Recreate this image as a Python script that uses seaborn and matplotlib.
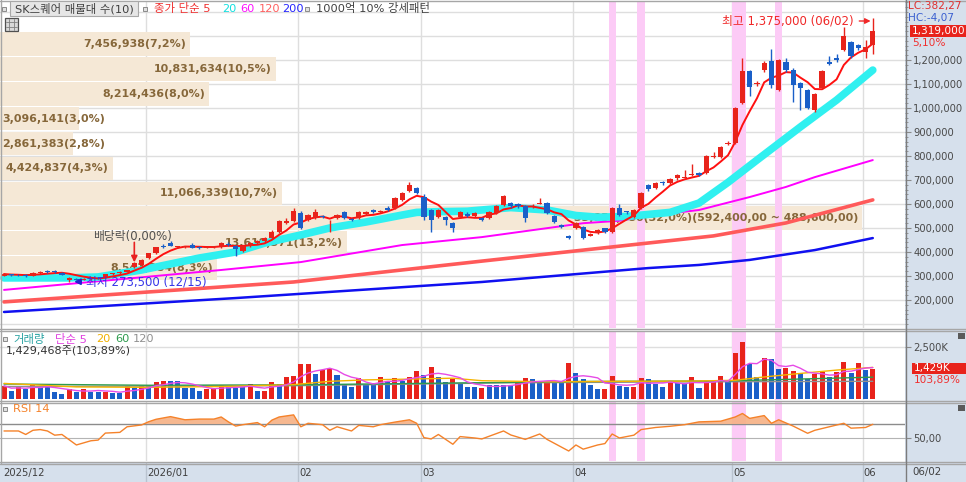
import numpy as np
import pandas as pd
import matplotlib
matplotlib.use("Agg")
import matplotlib.pyplot as plt
from matplotlib.patches import Rectangle
from matplotlib.lines import Line2D
from matplotlib.ticker import MultipleLocator
import seaborn as sns

# ------------------------------------------------------------------ data
month_labels = ["2025/12", "2026/01", "02", "03", "04", "05", "06"]
month_first_idx = [0, 20, 41, 58, 79, 101, 119]

# daily candles, prices in thousand won
open_k = [
    300, 306, 305, 304, 300, 312, 322, 320, 314, 284, 288, 284, 287, 293, 295, 307, 312, 318, 339, 346,
    374, 396, 424, 438, 420, 419, 428, 421, 418, 419, 421, 433, 425, 405, 424, 438, 445, 458, 483, 520, 530,
    562, 533, 542, 550, 523, 540, 567, 538, 542, 558, 575, 565, 585, 583, 617, 654, 667,
    629, 575, 546, 546, 521, 546, 560, 550, 542, 542, 562, 596, 604, 600, 592, 590, 600, 604, 550, 512, 465,
    500, 504, 468, 479, 500, 483, 583, 570, 546, 583, 679, 667, 692, 687, 708, 710, 720, 728, 729, 796, 796, 850,
    854, 1021, 1154, 1100, 1158, 1196, 1075, 1192, 1158, 1104, 1075, 992, 1083, 1192, 1208, 1242, 1275, 1262,
    1233, 1262]
high_k = [
    312, 310, 309, 308, 316, 322, 326, 324, 318, 294, 292, 292, 296, 297, 310, 314, 319, 327, 358, 370,
    397, 422, 432, 444, 426, 426, 437, 424, 425, 427, 442, 440, 428, 428, 441, 450, 461, 490, 535, 540, 585,
    570, 558, 578, 556, 532, 558, 570, 541, 570, 572, 580, 577, 590, 628, 650, 690, 670,
    640, 580, 580, 548, 524, 570, 565, 566, 546, 570, 596, 638, 610, 605, 596, 598, 625, 608, 554, 515, 470,
    525, 508, 480, 495, 502, 588, 600, 572, 578, 650, 683, 690, 697, 708, 725, 740, 767, 733, 805, 815, 842, 862,
    1004, 1208, 1160, 1112, 1195, 1246, 1205, 1210, 1165, 1108, 1080, 1062, 1158, 1215, 1225, 1338, 1280, 1268,
    1283, 1375]
low_k = [
    298, 300, 300, 296, 298, 308, 314, 312, 304, 273.5, 282, 282, 285, 288, 293, 305, 310, 316, 332, 342,
    370, 392, 416, 424, 416, 416, 415, 414, 415, 416, 418, 425, 385, 400, 420, 435, 442, 455, 480, 515, 526,
    495, 528, 538, 542, 485, 536, 538, 528, 538, 555, 562, 562, 570, 580, 612, 650, 640,
    533, 483, 540, 512, 485, 540, 545, 546, 528, 538, 558, 592, 585, 585, 525, 585, 598, 558, 520, 500, 455,
    496, 455, 465, 476, 480, 478, 550, 560, 540, 578, 655, 662, 680, 683, 702, 708, 718, 718, 725, 790, 790, 846,
    850, 1015, 1050, 1090, 1150, 1085, 1070, 1150, 1025, 990, 995, 985, 1078, 1178, 1192, 1238, 1210, 1240,
    1208, 1225]
close_k = [
    308, 304, 303, 299, 312, 316, 318, 315, 306, 292, 285, 288, 292, 291, 308, 311, 316, 324, 353, 367,
    394, 420, 420, 427, 423, 423, 418, 418, 422, 423, 437, 429, 412, 425, 438, 447, 458, 485, 530, 528, 572,
    500, 554, 567, 546, 527, 554, 542, 533, 567, 567, 565, 572, 575, 625, 646, 679, 646,
    546, 533, 575, 533, 500, 567, 550, 562, 533, 567, 592, 633, 590, 590, 542, 593, 604, 562, 525, 505, 460,
    521, 458, 475, 492, 483, 583, 554, 565, 575, 646, 662, 687, 687, 704, 721, 714, 725, 722, 800, 800, 837, 856,
    1000, 1154, 1087, 1105, 1188, 1096, 1200, 1158, 1096, 1083, 1000, 1058, 1154, 1185, 1200, 1300, 1217, 1250,
    1255, 1319]

# volume (thousand shares) and bar colour flag (1 = red, 0 = blue)
volume_k = [
    637, 408, 555, 474, 719, 604, 604, 359, 229, 474, 359, 490, 359, 359, 359, 278, 278, 604, 523, 637,
    604, 817, 850, 850, 850, 523, 523, 408, 474, 523, 686, 604, 523, 555, 719, 408, 408, 817, 719, 1062, 1095,
    1666, 1699, 1209, 1372, 1454, 1144, 719, 555, 1013, 653, 686, 1046, 850, 1013, 882, 1062, 1339,
    1176, 1552, 1046, 817, 964, 735, 555, 555, 544, 672, 672, 672, 672, 800, 1024, 944, 800, 800, 864, 800, 1712,
    1264, 944, 672, 480, 480, 1120, 640, 592, 592, 992, 944, 720, 592, 832, 752, 752, 1040, 544, 864, 864, 1120, 864,
    2192, 2720, 1680, 1040, 1952, 1904, 1440, 1472, 1344, 1232, 960, 1200, 1312, 1040, 1312, 1760, 1264, 1712,
    1392, 1429]
volume_up = [
    1, 0, 1, 0, 1, 0, 0, 0, 0, 1, 0, 1, 0, 0, 1, 0, 0, 1, 0, 1,
    0, 1, 1, 0, 0, 0, 0, 0, 1, 1, 1, 0, 0, 0, 1, 0, 1, 1, 0, 1, 1,
    1, 1, 0, 1, 1, 0, 0, 0, 1, 0, 0, 1, 0, 1, 0, 1, 1,
    0, 1, 0, 0, 1, 0, 0, 0, 1, 0, 0, 0, 0, 1, 1, 0, 0, 1, 0, 0, 1,
    0, 0, 0, 0, 1, 1, 0, 0, 1, 1, 0, 0, 0, 1, 0, 0, 1, 0, 1, 1, 1, 0,
    1, 1, 0, 0, 1, 0, 0, 1, 1, 0, 0, 1, 1, 0, 1, 1, 0, 1,
    0, 1]

# moving averages (index, thousand won)
ma20_idx = [0, 9, 13, 19, 27, 32, 36, 41, 45, 50, 55, 57, 60, 64, 70, 75, 79, 82, 86, 92, 96, 100, 104, 110, 115, 120]
ma20_k = [292, 292, 296, 325, 375, 400, 437, 471, 500, 525, 554, 565, 568, 570, 585, 575, 552, 545, 548, 565, 604, 690, 783, 921, 1033, 1158]
ma60_idx = [0, 30, 41, 55, 66, 80, 85, 89, 96, 103, 108, 112, 120]
ma60_k = [242, 325, 358, 429, 462, 520, 530, 550, 575, 629, 671, 712, 783]
ma120_idx = [0, 40, 66, 84, 98, 108, 120]
ma120_k = [192, 275, 362, 421, 467, 521, 617]
ma200_idx = [0, 32, 66, 89, 96, 103, 112, 120]
ma200_k = [150, 208, 275, 333, 346, 367, 408, 458]

# volume moving averages
vma20_idx = [0, 10, 20, 30, 40, 45, 50, 55, 62, 66, 75, 85, 95, 101, 105, 110, 115, 120]
vma20_k = [750, 580, 560, 600, 690, 850, 920, 950, 1000, 880, 830, 850, 860, 900, 1060, 1230, 1390, 1520]
vma60_idx = [0, 20, 40, 60, 80, 100, 110, 120]
vma60_k = [720, 660, 680, 760, 840, 870, 960, 1050]
vma120_idx = [0, 40, 70, 100, 120]
vma120_k = [600, 640, 780, 830, 850]

# RSI 14
rsi_idx = [0, 2, 3, 4, 5, 6, 7, 8, 10, 12, 13, 14, 16, 17, 19, 20, 21, 23, 25, 27, 29, 30, 31, 32, 33, 35, 36,
           37, 38, 40, 41, 42, 44, 45, 46, 48, 49, 51, 52, 54, 56, 57, 58, 59, 60, 62, 63, 65, 66, 69, 70, 72,
           74, 75, 78, 79, 80, 82, 83, 84, 85, 87, 88, 90, 92, 94, 96, 99, 101, 102, 103, 105, 106, 107, 109,
           111, 112, 114, 116, 117, 119, 120]
rsi_val = [60, 60, 55, 61, 62, 60, 54, 55, 40, 46, 47, 57, 58, 66, 68.6, 73.3, 76.7, 80.5, 76, 77, 77, 80, 73, 67,
           69, 72, 66, 75.5, 80, 83, 66, 71, 69, 61, 66, 60, 68, 66, 69, 72.7, 76, 71, 50.5, 48.6, 55, 41, 52, 50,
           48.6, 60, 54.3, 48, 55.7, 48, 31.4, 40, 34, 40, 42, 55.7, 50, 54, 62, 65, 66.7, 69, 73, 74, 80, 85,
           78, 82, 71, 76, 67, 56.7, 61, 66, 71, 64, 65, 69.5]

# volume profile (매물대, 10 bands, top to bottom)
profile_vol = [7456938, 10831634, 8214436, 3096141, 2861383, 4424837, 11066339, 33859686, 13618371, 8541284]
profile_pct = ["7,2", "10,5", "8,0", "3,0", "2,8", "4,3", "10,7", "32,0", "13,2", "8,3"]
profile_top = [1319000, 1215200, 1111400, 1007600, 903800, 800000, 696200, 592400, 488600, 384800]
profile_bottom = [1215200, 1111400, 1007600, 903800, 800000, 696200, 592400, 488600, 384800, 281000]
profile_range_note = "(592,400,00 ~ 488,600,00)"

highlight_idx = [84, 88, 101, 102, 107]
price_ticks = [200000, 300000, 400000, 500000, 600000, 700000, 800000, 900000, 1000000, 1100000, 1200000]

# ------------------------------------------------------------------ frames
n = len(close_k)
df = pd.DataFrame({"idx": np.arange(n),
                   "open": np.array(open_k) * 1000, "high": np.array(high_k) * 1000,
                   "low": np.array(low_k) * 1000, "close": np.array(close_k) * 1000,
                   "volume": np.array(volume_k) * 1000, "vup": volume_up})
df["ma5"] = df["close"].rolling(5, min_periods=1).mean()
df["vma5"] = df["volume"].rolling(5, min_periods=1).mean()

# ------------------------------------------------------------------ style
sns.set_theme(style="white")
plt.rcParams["font.family"] = ["DejaVu Sans", "Noto Sans CJK KR"]
plt.rcParams["axes.unicode_minus"] = False

RED = "#e8231b"
BLUE = "#1a5fc8"
PANEL = "#d6e0ec"
GRID = "#dedede"
PINK = "#fccbf6"
BEIGE = "#f5e8d6"
BROWN = "#86673a"

W, H = 966, 482
fig = plt.figure(figsize=(W / 100, H / 100), dpi=100)
fig.patch.set_facecolor("white")


def rect(x0, y0, x1, y1):
    return [x0 / W, 1 - y1 / H, (x1 - x0) / W, (y1 - y0) / H]


def ftext(px, py, s, **kw):
    kw.setdefault("va", "center")
    kw.setdefault("ha", "left")
    kw.setdefault("zorder", 6)
    return fig.text(px / W, 1 - py / H, s, **kw)


def fbox(x0, y0, x1, y1, fc, ec="none", lw=0.8, z=5):
    fig.add_artist(Rectangle((x0 / W, 1 - y1 / H), (x1 - x0) / W, (y1 - y0) / H,
                             transform=fig.transFigure, fc=fc, ec=ec, lw=lw, zorder=z))


def fline(x0, y0, x1, y1, color, lw=1.0, z=5):
    fig.add_artist(Line2D([x0 / W, x1 / W], [1 - y0 / H, 1 - y1 / H],
                          transform=fig.transFigure, color=color, lw=lw, zorder=z))


# right panel background
fbox(905, 0, 966, 482, PANEL, z=-1)

XLIM = (-0.552, 124.45)
PX = 7.24  # pixels per candle
month_grid = [m - 0.4 for m in month_first_idx]

ax_p = fig.add_axes(rect(0, 2, 905, 328))
ax_v = fig.add_axes(rect(0, 331, 905, 400))
ax_r = fig.add_axes(rect(0, 402, 905, 461))
ax_d = fig.add_axes(rect(0, 463, 905, 482))

for ax in (ax_p, ax_v, ax_r, ax_d):
    ax.set_xlim(*XLIM)
    ax.set_xticks([])
    for s in ax.spines.values():
        s.set_visible(False)
    ax.set_facecolor("white")
    ax.grid(False)

for ax in (ax_p, ax_v, ax_r):
    for g in month_grid[1:]:
        ax.axvline(g, color=GRID, lw=1, zorder=0.5)
    for i in highlight_idx:
        ax.axvspan(i - 0.5, i + 0.5, color=PINK, lw=0, zorder=1.2)
    ax.yaxis.tick_right()
    ax.tick_params(axis="y", which="both", direction="out", color="#8a8a8a",
                   labelcolor="#4a4a4a", labelsize=7.2, pad=2, right=True, left=False)
    ax.tick_params(axis="y", which="major", length=4, width=0.8)
    ax.tick_params(axis="y", which="minor", length=2, width=0.6)

# ------------------------------------------------------------------ price panel
ax_p.set_ylim(83250, 1441700)
for p in range(100000, 1400001, 100000):
    ax_p.axhline(p, color=GRID, lw=1, zorder=0.5)

span = XLIM[1] - XLIM[0]
vmax = max(profile_vol)
for k in range(len(profile_vol)):
    w = profile_vol[k] / vmax * span * 0.9525
    top, bot = profile_top[k], profile_bottom[k]
    ax_p.barh((top + bot) / 2, w, left=XLIM[0], height=(top - bot) * 0.95,
              color=BEIGE, lw=0, zorder=1)
    label = f"{profile_vol[k]:,}({profile_pct[k]}%)"
    if k == int(np.argmax(profile_vol)):
        label += profile_range_note
    if w * PX < 100:
        ax_p.text(XLIM[0] + 2 / PX, (top + bot) / 2, label, ha="left", va="center",
                  fontsize=7.9, fontweight="bold", color=BROWN, zorder=1.5)
    else:
        ax_p.text(XLIM[0] + w - 4 / PX, (top + bot) / 2, label, ha="right", va="center",
                  fontsize=7.9, fontweight="bold", color=BROWN, zorder=1.5)

sns.lineplot(x=ma200_idx, y=np.array(ma200_k) * 1000, ax=ax_p, color="#1010f0", lw=1.8, zorder=3)
sns.lineplot(x=ma120_idx, y=np.array(ma120_k) * 1000, ax=ax_p, color="#ff5a5a", lw=2.6, zorder=3)
sns.lineplot(x=ma60_idx, y=np.array(ma60_k) * 1000, ax=ax_p, color="#ff00ff", lw=1.4, zorder=3)
sns.lineplot(x=ma20_idx, y=np.array(ma20_k) * 1000, ax=ax_p, color="#30f0f0", lw=5.5, zorder=3.2)
sns.lineplot(data=df, x="idx", y="ma5", ax=ax_p, color="#ff1010", lw=1.4, zorder=4)

up = df["close"] >= df["open"]
ccol = np.where(up, RED, BLUE)
ax_p.vlines(df["idx"], df["low"], df["high"], colors=ccol, lw=1, zorder=5)
body = (df["close"] - df["open"]).abs().clip(lower=2500)
ax_p.bar(df["idx"], body, bottom=np.minimum(df["open"], df["close"]), width=0.72,
         color=ccol, lw=0, zorder=6)

ax_p.set_yticks(price_ticks)
ax_p.set_yticklabels([f"{v:,}" for v in price_ticks])
ax_p.yaxis.set_minor_locator(MultipleLocator(20000))
ax_p.set_ylabel("")
ax_p.set_xlabel("")

# annotations
ax_p.annotate("최고 1,375,000 (06/02)", xy=(119.7, 1362500), xytext=(117.3, 1362500),
              ha="right", va="center", color="#f02828", fontsize=8.5, zorder=8,
              arrowprops=dict(arrowstyle="-|>", color="#f02828", lw=1, mutation_scale=8,
                              shrinkA=2, shrinkB=0))
ax_p.text(17.8, 466600, "배당락(0,00%)", ha="center", va="center", color="#505050",
          fontsize=8.5, zorder=8)
ax_p.annotate("", xy=(18, 357000), xytext=(18, 440000),
              arrowprops=dict(arrowstyle="-|>", color="#e82020", lw=1.2, mutation_scale=9,
                              shrinkA=0, shrinkB=0), zorder=8)
ax_p.annotate("최저 273,500 (12/15)", xy=(9.7, 276000), xytext=(11.3, 276000),
              ha="left", va="center", color="#3535e8", fontsize=8.5, zorder=8,
              arrowprops=dict(arrowstyle="-|>", color="#2020d0", lw=1.2, mutation_scale=9,
                              shrinkA=1, shrinkB=0))

# ------------------------------------------------------------------ volume panel
ax_v.set_ylim(-48000, 3269000)
ax_v.axhline(2500000, color=GRID, lw=1, zorder=0.5)
vcol = np.where(df["vup"] == 1, RED, BLUE)
ax_v.bar(df["idx"], df["volume"], width=0.7, color=vcol, lw=0, zorder=3)
sns.lineplot(x=vma120_idx, y=np.array(vma120_k) * 1000, ax=ax_v, color="#909090", lw=1, zorder=4)
sns.lineplot(x=vma60_idx, y=np.array(vma60_k) * 1000, ax=ax_v, color="#2e9b4e", lw=1, zorder=4)
sns.lineplot(x=vma20_idx, y=np.array(vma20_k) * 1000, ax=ax_v, color="#f5b400", lw=1, zorder=4)
sns.lineplot(data=df, x="idx", y="vma5", ax=ax_v, color="#e64be6", lw=1, zorder=4)
ax_v.set_yticks([2500000])
ax_v.set_yticklabels(["2,500K"])
ax_v.set_ylabel("")
ax_v.set_xlabel("")

# ------------------------------------------------------------------ RSI panel
ax_r.set_ylim(17.1, 101.4)
ax_r.axhline(70, color="#8c8c8c", lw=1, zorder=2)
ax_r.axhline(50, color="#b4b4b4", lw=0.8, zorder=2)
rx = np.array(rsi_idx)
rv = np.array(rsi_val)
ax_r.fill_between(rx, rv, 70, where=rv > 70, interpolate=True, color="#f6b184",
                  alpha=0.9, lw=0, zorder=3)
sns.lineplot(x=rx, y=rv, ax=ax_r, color="#f5822a", lw=1, zorder=4)
ax_r.set_yticks([50])
ax_r.set_yticklabels(["50,00"])
ax_r.set_ylabel("")
ax_r.set_xlabel("")

# ------------------------------------------------------------------ date strip
ax_d.set_facecolor(PANEL)
ax_d.set_ylim(0, 1)
ax_d.set_yticks([])
for g in month_grid[1:]:
    ax_d.axvline(g, color="#b9c3cf", lw=1)
for g, lab in zip(month_grid, month_labels):
    xx = g + 0.16 if g > 0 else -0.15
    ax_d.text(xx, 0.45, lab, ha="left", va="center", fontsize=7.2, color="#404040")

# ------------------------------------------------------------------ frame lines
for yy in (1, 328.5, 330.5, 400.5, 402.5, 461.5, 463.5):
    fline(0, yy, 966, yy, "#a6a6a6", lw=1)
fline(905.5, 0, 905.5, 482, "#7c7c7c", lw=1)
fline(0.5, 0, 0.5, 463, "#a6a6a6", lw=1)


def icon(px, py, fc="#e0e0e0", ec="#8a8a8a", s=4):
    fbox(px, py - s / 2, px + s, py + s / 2, fc, ec=ec, lw=0.7, z=6)


# top legend
icon(2, 8.5)
fbox(10, 1.5, 138, 15.5, "#e6e6e6", ec="#a8a8a8", lw=0.8, z=5)
ftext(15, 8.5, "SK스퀘어 매물대 수(10)", fontsize=8.2, color="#404040")
icon(143, 8.5)
ftext(154, 8.5, "종가 단순 5", fontsize=8.2, color="#f03030")
ftext(222, 8.5, "20", fontsize=8.2, color="#12e0e0")
ftext(240, 8.5, "60", fontsize=8.2, color="#ff10ff")
ftext(259, 8.5, "120", fontsize=8.2, color="#ff6060")
ftext(282, 8.5, "200", fontsize=8.2, color="#2525ff")
icon(305, 8.5)
ftext(316, 8.5, "1000억 10% 강세패턴", fontsize=8.2, color="#404040")
fbox(5, 18, 18, 31, "#d9d9d9", ec="#505050", lw=0.9, z=6)
for gx in (9.3, 13.7):
    fline(gx, 19, gx, 30, "#808080", lw=0.6, z=7)
for gy in (22.3, 26.6):
    fline(6, gy, 17, gy, "#808080", lw=0.6, z=7)

# volume legend
icon(3, 339)
ftext(13, 339, "거래량", fontsize=8.2, color="#2aa3a3")
ftext(55, 339, "단순 5", fontsize=8.2, color="#e040e0")
ftext(96, 339, "20", fontsize=8.2, color="#f0b000")
ftext(115, 339, "60", fontsize=8.2, color="#2e9b4e")
ftext(133, 339, "120", fontsize=8.2, color="#909090")
ftext(6, 351.5, "1,429,468주(103,89%)", fontsize=8.0, color="#333333")

# RSI legend
icon(3, 409)
ftext(13, 409, "RSI 14", fontsize=8.2, color="#f5822a")

# right panel texts
ftext(908, 6.5, "LC:382,27", fontsize=7.6, color="#e03030")
ftext(908, 17.5, "HC:-4,07", fontsize=7.6, color="#3a5fd0")
fbox(910, 25, 966, 37, "#e8231b", z=5)
ftext(912, 31, "1,319,000", fontsize=7.6, color="white")
ftext(912, 43, "5,10%", fontsize=7.6, color="#f03030")
fbox(912, 363, 966, 374, "#e8231b", z=5)
ftext(914, 368.5, "1,429K", fontsize=7.6, color="white")
ftext(914, 380, "103,89%", fontsize=7.6, color="#f03030")
ftext(912, 471.5, "06/02", fontsize=7.4, color="#404040")
fbox(958, 333, 965, 339, "#5a5a5a", z=6)
fbox(958, 405, 965, 411, "#5a5a5a", z=6)

fig.savefig("out.png", dpi=100, facecolor="white")
